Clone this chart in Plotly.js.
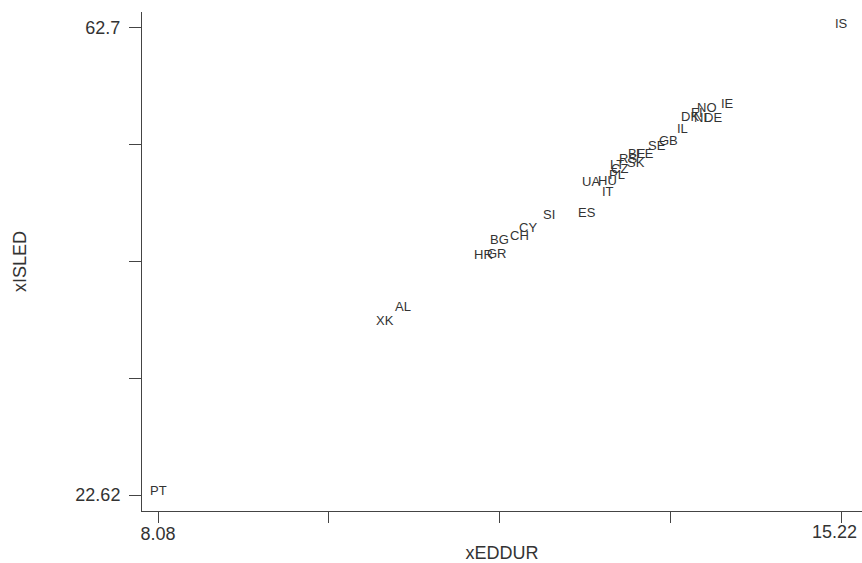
<!DOCTYPE html>
<html>
<head>
<meta charset="utf-8">
<script src="https://cdn.plot.ly/plotly-3.0.1.min.js"></script>
<style>html,body{margin:0;padding:0;background:#fff;}#chart{width:862px;height:563px;}</style>
</head>
<body>
<div id="chart"></div>
<script>
const countries = ["IS","PT","IE","NO","FI","DK","NL","DE","IL","GB","SE","EE","BE","RS","SK","LT","CZ","PL","HU","UA","IT","ES","SI","CY","CH","BG","GR","HR","AL","XK"];
const xEDDUR = [15.22,8.08,14.03,13.81,13.71,13.63,13.76,13.87,13.55,13.41,13.29,13.16,13.08,12.99,13.07,12.87,12.90,12.87,12.77,12.60,12.78,12.56,12.16,11.94,11.85,11.65,11.62,11.48,10.64,10.45];
const xISLED = [62.7,22.62,55.84,55.50,55.07,54.72,54.64,54.64,53.69,52.66,52.23,51.55,51.55,51.12,50.77,50.60,50.26,49.74,49.23,49.14,48.29,46.48,46.31,45.20,44.51,44.17,42.96,42.88,38.41,37.21];
const xTickVals = [8.08, 9.865, 11.65, 13.435, 15.22];
const xTickText = ["8.08", "", "", "", ""];
const xEndLabel = "15.22";
const yTickVals = [22.62, 32.64, 42.66, 52.68, 62.7];
const yTickText = ["22.62", "", "", "", "62.7"];

const FONT = "Liberation Sans, Arial, sans-serif";
const trace = {
  x: xEDDUR, y: xISLED, text: countries,
  mode: "markers", type: "scatter",
  marker: {size: 1, opacity: 0},
  hoverinfo: "x+y+text", showlegend: false
};
const labelAnnotations = countries.map((c, i) => ({
  x: xEDDUR[i], y: xISLED[i], xref: "x", yref: "y", text: c,
  showarrow: false, xanchor: "center", yanchor: "middle", yshift: 4.5,
  font: {family: FONT, size: 13, color: "#333"}
}));
labelAnnotations.push({
  x: xTickVals[4], y: 0, xref: "x", yref: "paper", text: xEndLabel,
  showarrow: false, xanchor: "center", yanchor: "middle", xshift: -7.5, yshift: -21,
  font: {family: FONT, size: 18, color: "#333"}
});
const axisCommon = {
  showgrid: false, zeroline: false, showline: true, linecolor: "#444", linewidth: 1,
  ticks: "outside", ticklen: 11, tickcolor: "#444", tickwidth: 1,
  tickfont: {family: FONT, size: 18, color: "#333"}
};
const layout = {
  width: 862, height: 563,
  margin: {l: 142, r: 0, t: 12, b: 52},
  paper_bgcolor: "#fff", plot_bgcolor: "#fff",
  annotations: labelAnnotations,
  xaxis: Object.assign({}, axisCommon, {
    range: [7.913, 15.429], tickmode: "array", tickvals: xTickVals, ticktext: xTickText,
    ticklabelstandoff: -5,
    title: {text: "xEDDUR", font: {family: FONT, size: 18, color: "#333"}, standoff: 4}
  }),
  yaxis: Object.assign({}, axisCommon, {
    range: [21.25, 64.07], tickmode: "array", tickvals: yTickVals, ticktext: yTickText,
    ticklen: 12, ticklabelstandoff: 5,
    title: {text: "xISLED", font: {family: FONT, size: 18, color: "#333"}, standoff: 44}
  })
};
Plotly.newPlot("chart", [trace], layout, {displayModeBar: false, staticPlot: true});
</script>
</body>
</html>
